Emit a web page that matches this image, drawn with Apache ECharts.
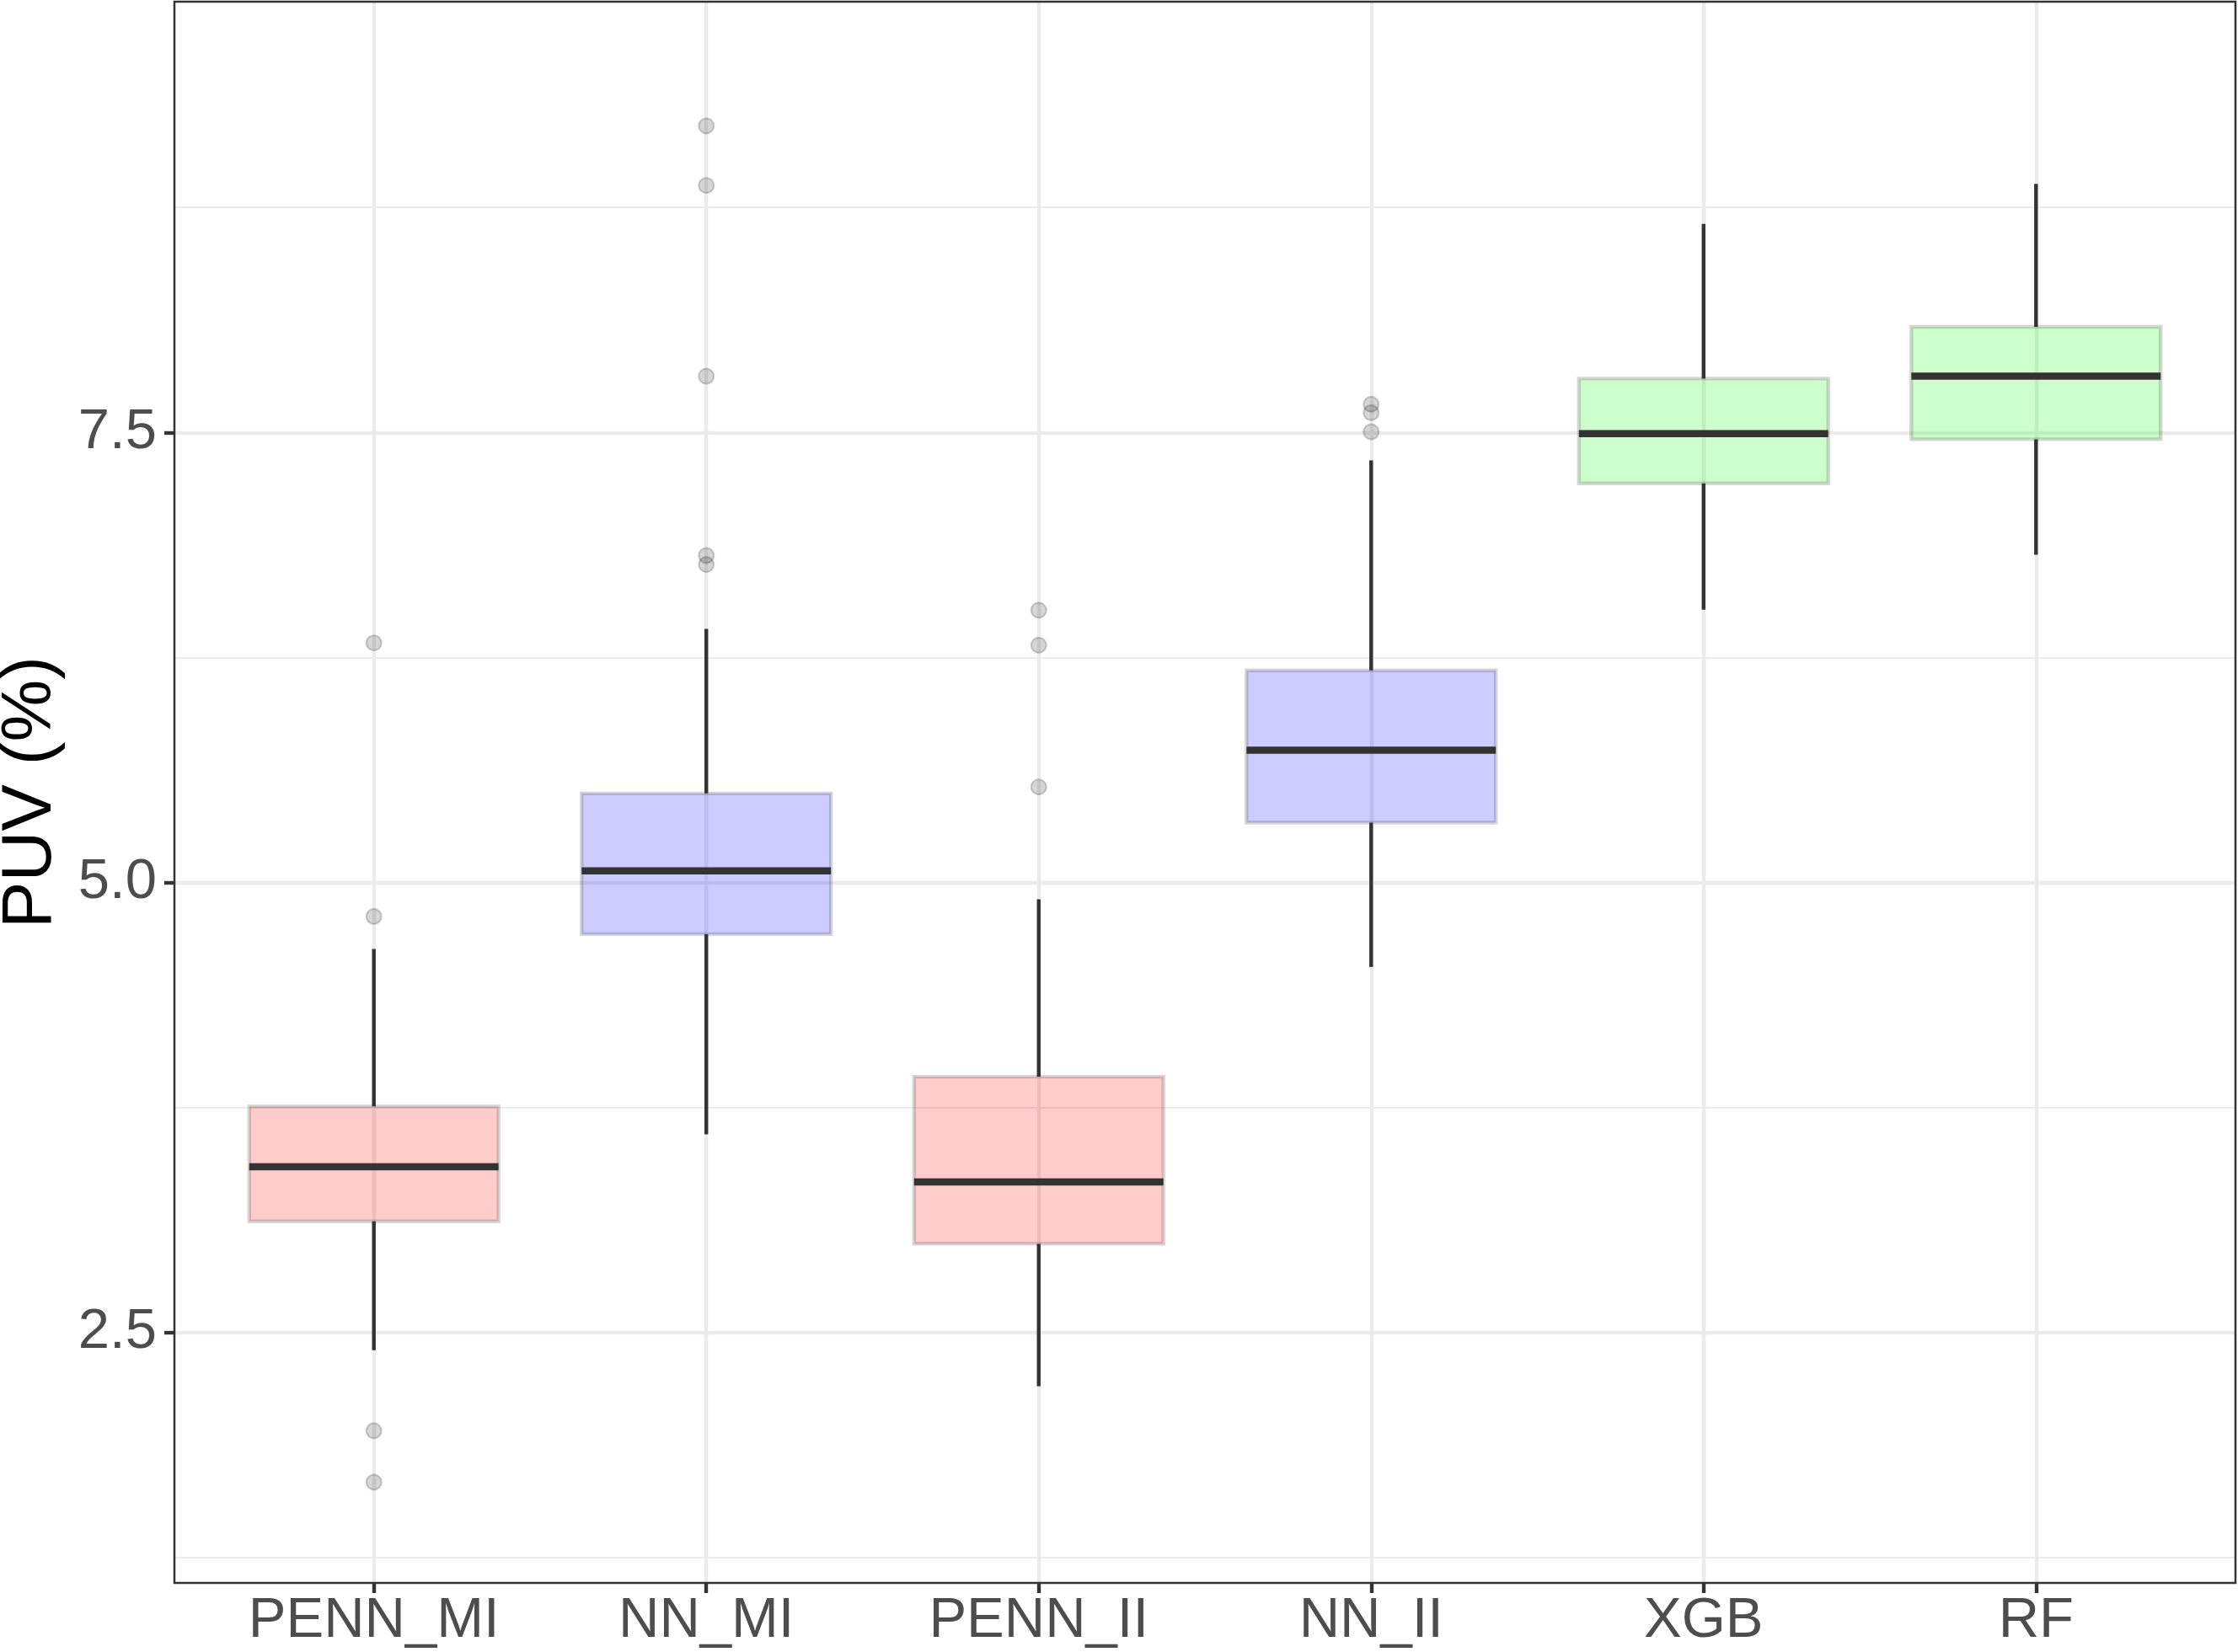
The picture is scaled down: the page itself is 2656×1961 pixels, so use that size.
<!DOCTYPE html>
<html>
<head>
<meta charset="utf-8">
<script src="https://cdn.jsdelivr.net/npm/echarts@6/dist/echarts.min.js"></script>
<style>
  html, body { margin: 0; padding: 0; background: #ffffff; }
  #main { width: 2656px; height: 1961px; }
</style>
</head>
<body>
<div id="main"></div>
<script>
var categories = ['PENN_MI', 'NN_MI', 'PENN_II', 'NN_II', 'XGB', 'RF'];

// box statistics
var whiskerLow = [2.40, 3.60, 2.20, 4.53, 6.515, 6.82];
var q1 = [3.117, 4.712, 2.992, 5.332, 7.217, 7.462];
var median = [3.42, 5.064, 3.336, 5.734, 7.493, 7.812];
var q3 = [3.755, 5.494, 3.92, 6.178, 7.799, 8.086];
var whiskerHigh = [4.63, 6.408, 4.906, 7.344, 8.659, 8.881];

// outliers per category
var outliers = [
    [6.33, 4.81, 1.953, 1.667],
    [9.203, 8.872, 7.812, 6.816, 6.766],
    [6.512, 6.318, 5.530],
    [7.656, 7.609, 7.503],
    [],
    []
];

var majorTicks = [2.5, 5.0, 7.5];
var minorTicks = [1.25, 3.75, 6.25, 8.75];
var yMin = 1.1075, yMax = 9.893;

var fills = ['rgba(255,0,0,0.2)', 'rgba(0,0,255,0.2)', 'rgba(255,0,0,0.2)',
             'rgba(0,0,255,0.2)', 'rgba(0,255,0,0.2)', 'rgba(0,255,0,0.2)'];

var boxData = [];
for (var i = 0; i < categories.length; i++) {
    boxData.push([i, whiskerLow[i], q1[i], median[i], q3[i], whiskerHigh[i]]);
}
var outlierData = [];
outliers.forEach(function (list, i) {
    list.forEach(function (v) { outlierData.push([categories[i], v]); });
});

var myChart = echarts.init(document.getElementById('main'), null, {renderer: 'canvas'});
var font = 'Liberation Sans, Arial, Helvetica, sans-serif';

// panel 207..2653 wide, ggplot pads a discrete axis by 0.6 so the data grid is inset by 0.1 unit
var panelL = 207, panelR = 3, panelT = 2, panelB = 82;
var unit = (2656 - panelL - panelR) / 6.2;

option = {
    backgroundColor: '#ffffff',
    animation: false,
    grid: [
        {left: panelL + unit * 0.1, right: panelR + unit * 0.1, top: panelT, bottom: panelB,
         outerBoundsMode: 'none', containLabel: false},
        {left: panelL, right: panelR, top: panelT, bottom: panelB, show: true,
         outerBoundsMode: 'none', containLabel: false,
         borderColor: '#333333', borderWidth: 2.5, backgroundColor: 'transparent', z: 3}
    ],
    xAxis: [
        {
            type: 'category',
            gridIndex: 0,
            data: categories,
            boundaryGap: true,
            axisLine: {show: false},
            axisTick: {show: true, alignWithLabel: true, length: 12,
                       lineStyle: {color: '#333333', width: 4.4}},
            axisLabel: {fontSize: 67, color: '#4d4d4d', fontFamily: font, margin: 12},
            splitLine: {show: true, alignWithLabel: true, lineStyle: {color: '#ebebeb', width: 4.4}}
        },
        {type: 'value', gridIndex: 1, min: 0, max: 1, show: false}
    ],
    yAxis: [
        {type: 'value', gridIndex: 0, min: yMin, max: yMax, show: false},
        {
            type: 'value',
            gridIndex: 1,
            min: yMin,
            max: yMax,
            name: 'PUV (%)',
            nameLocation: 'middle',
            nameGap: 128,
            nameTextStyle: {fontSize: 83, color: '#000000', fontFamily: font},
            axisLine: {show: false},
            axisTick: {show: true, length: 12, customValues: majorTicks,
                       lineStyle: {color: '#333333', width: 4.4}},
            axisLabel: {fontSize: 67, color: '#4d4d4d', fontFamily: font, margin: 21,
                        customValues: majorTicks,
                        formatter: function (v) { return v.toFixed(1); }},
            splitLine: {show: true, lineStyle: {color: '#ebebeb', width: 4.4}}
        },
        {
            type: 'value',
            gridIndex: 1,
            min: yMin,
            max: yMax,
            axisLine: {show: false},
            axisTick: {show: false, customValues: minorTicks},
            axisLabel: {show: false, customValues: minorTicks},
            splitLine: {show: true, lineStyle: {color: '#ebebeb', width: 2.2}}
        }
    ],
    series: [
        {
            name: 'outliers',
            type: 'scatter',
            xAxisIndex: 0,
            yAxisIndex: 0,
            data: outlierData,
            symbol: 'circle',
            symbolSize: 18,
            itemStyle: {color: 'rgba(0,0,0,0.2)', borderColor: 'rgba(0,0,0,0.22)', borderWidth: 2.2},
            z: 2
        },
        {
            name: 'boxes',
            type: 'custom',
            xAxisIndex: 0,
            yAxisIndex: 0,
            data: boxData,
            z: 3,
            renderItem: function (params, api) {
                var x = api.value(0);
                var lo = api.coord([x, api.value(1)]);
                var b1 = api.coord([x, api.value(2)]);
                var md = api.coord([x, api.value(3)]);
                var b3 = api.coord([x, api.value(4)]);
                var hi = api.coord([x, api.value(5)]);
                var bw = api.size([1, 0])[0] * 0.75;
                var dark = {stroke: '#333333', lineWidth: 4.4};
                return {
                    type: 'group',
                    children: [
                        {type: 'line', shape: {x1: lo[0], y1: lo[1], x2: b1[0], y2: b1[1]}, style: dark},
                        {type: 'line', shape: {x1: b3[0], y1: b3[1], x2: hi[0], y2: hi[1]}, style: dark},
                        {type: 'rect',
                         shape: {x: b1[0] - bw / 2, y: b3[1], width: bw, height: b1[1] - b3[1]},
                         style: {fill: fills[params.dataIndex], stroke: 'rgba(51,51,51,0.2)', lineWidth: 4.4}},
                        {type: 'line', shape: {x1: md[0] - bw / 2, y1: md[1], x2: md[0] + bw / 2, y2: md[1]},
                         style: {stroke: '#333333', lineWidth: 8.5}}
                    ]
                };
            }
        }
    ]
};
myChart.setOption(option);
</script>
</body>
</html>
